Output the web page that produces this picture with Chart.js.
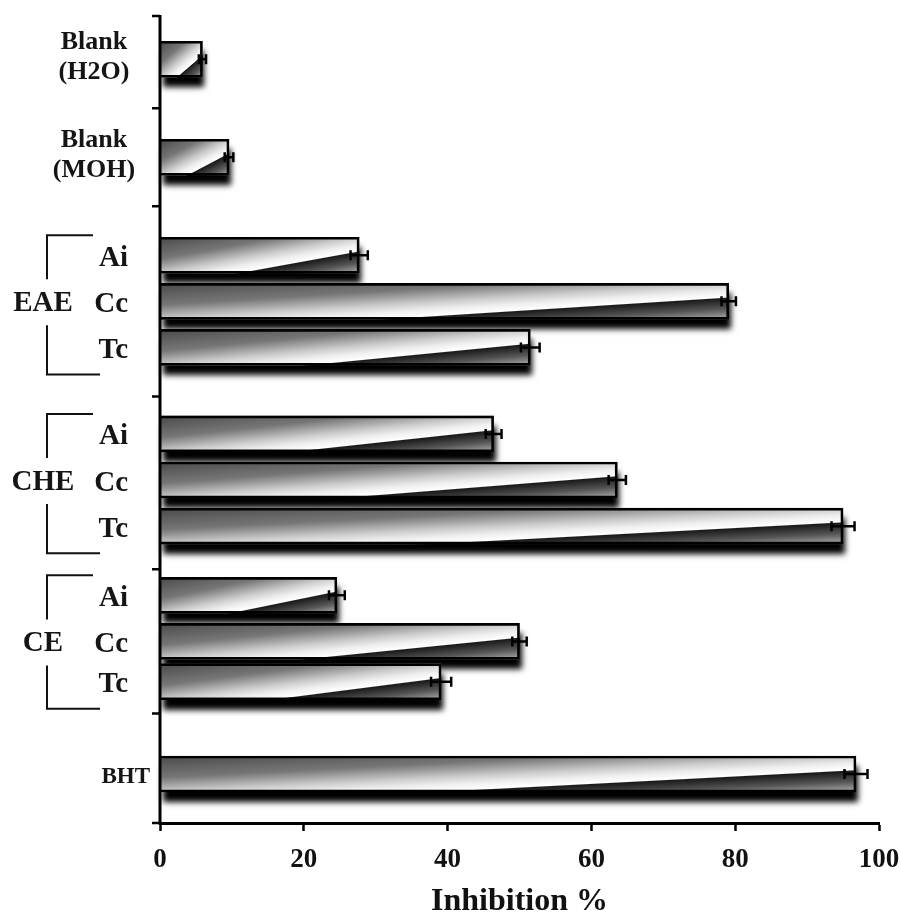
<!DOCTYPE html>
<html>
<head>
<meta charset="utf-8">
<script src="https://cdn.jsdelivr.net/npm/chart.js@4/dist/chart.umd.min.js"></script>
<style>
  html, body { margin: 0; padding: 0; background: #ffffff; }
  #wrap { width: 901px; height: 921px; }
</style>
</head>
<body>
<div id="wrap"><canvas id="chart" width="901" height="921"></canvas></div>
<script>
// ---- data (top to bottom) ----
const barLabels = ['Blank (H2O)', 'Blank (MOH)',
  'EAE Ai', 'EAE Cc', 'EAE Tc',
  'CHE Ai', 'CHE Cc', 'CHE Tc',
  'CE Ai', 'CE Cc', 'CE Tc',
  'BHT'];
const inhibition = [5.9, 9.6, 27.7, 79.1, 51.5, 46.4, 63.6, 95.0, 24.6, 50.0, 39.1, 96.8];
const errorSD    = [0.5, 0.6, 1.2, 1.0, 1.3, 1.1, 1.2, 1.6, 1.1, 1.0, 1.4, 1.6];
const xTickValues = [0, 20, 40, 60, 80, 100];
const groupNames = ['EAE', 'CHE', 'CE'];
const subLabels = ['Ai', 'Cc', 'Tc'];
const blankLines = [['Blank', '(H2O)'], ['Blank', '(MOH)']];
const standardLabel = 'BHT';
const axisTitle = 'Inhibition %';

// ---- row layout of the category axis ----
const ROWS = 140;
const barRows = [7, 24, 41, 49, 57, 72, 80, 88, 100, 108, 115, 131];
const boundaryRows = [0, 16, 33, 66, 96, 121, 140];
const groupBars = [[2, 3, 4], [5, 6, 7], [8, 9, 10]];

const rowLabels = Array.from({ length: ROWS }, () => '');
barRows.forEach((r, i) => { rowLabels[r] = barLabels[i]; });
const rowValues = Array(ROWS).fill(null);
barRows.forEach((r, i) => { rowValues[r] = inhibition[i]; });

const SERIF = '"Liberation Serif", "Times New Roman", serif';

// Shaded bars with a drop shadow, error bars and the hand-set axis labels
const barArt = {
  id: 'barArt',
  beforeDatasetDraw(chart, args) {
    const ctx = chart.ctx;
    const meta = args.meta;
    barRows.forEach((r) => {
      const el = meta.data[r];
      const L = el.base, R = el.x;
      const T = el.y - el.height / 2, B = el.y + el.height / 2;
      const W = R - L, H = B - T;
      // drop shadow
      ctx.save();
      ctx.shadowColor = 'rgba(0,0,0,1)';
      ctx.shadowBlur = 6;
      ctx.shadowOffsetX = 2;
      ctx.shadowOffsetY = 10;
      ctx.fillStyle = '#000';
      ctx.fillRect(L, T, W, H);
      ctx.restore();
      // diagonal split gradient
      const n2 = H * H + W * W;
      const k = 2 * W * H / n2;
      const g = ctx.createLinearGradient(L, T, L + H * k, T + W * k);
      g.addColorStop(0, '#4a4a4a');
      g.addColorStop(0.3, '#767676');
      g.addColorStop(0.5, '#cccccc');
      g.addColorStop(0.6, '#eeeeee');
      g.addColorStop(0.69, '#ffffff');
      g.addColorStop(0.705, '#1a1a1a');
      g.addColorStop(0.85, '#555555');
      g.addColorStop(1, '#b0b0b0');
      ctx.save();
      ctx.fillStyle = g;
      ctx.fillRect(L, T, W, H);
      ctx.restore();
    });
  },
  afterDatasetsDraw(chart) {
    const ctx = chart.ctx;
    const xs = chart.scales.x;
    const meta = chart.getDatasetMeta(0);
    ctx.save();
    ctx.strokeStyle = '#000';
    ctx.lineWidth = 2.5;
    barRows.forEach((r, i) => {
      const y = meta.data[r].y;
      const x1 = xs.getPixelForValue(inhibition[i] - errorSD[i]);
      const x2 = xs.getPixelForValue(inhibition[i] + errorSD[i]);
      ctx.beginPath();
      ctx.moveTo(x1, y); ctx.lineTo(x2, y);
      ctx.moveTo(x1, y - 5); ctx.lineTo(x1, y + 5);
      ctx.moveTo(x2, y - 5); ctx.lineTo(x2, y + 5);
      ctx.stroke();
    });
    ctx.restore();
  },
  afterDraw(chart) {
    const ctx = chart.ctx;
    const ys = chart.scales.y;
    const area = chart.chartArea;
    const meta = chart.getDatasetMeta(0);
    const rowY = (k) => ys.getPixelForValue(k - 0.5);
    const barY = (i) => meta.data[barRows[i]].y;
    ctx.save();
    // y axis line and group ticks
    ctx.strokeStyle = '#000';
    ctx.lineWidth = 3;
    ctx.beginPath();
    ctx.moveTo(area.left, rowY(0) - 1);
    ctx.lineTo(area.left, rowY(ROWS) + 1.5);
    ctx.stroke();
    ctx.lineWidth = 2.5;
    ctx.beginPath();
    boundaryRows.forEach((k) => {
      const y = rowY(k);
      ctx.moveTo(area.left - 8, y);
      ctx.lineTo(area.left, y);
    });
    ctx.stroke();

    ctx.fillStyle = '#151515';
    ctx.textBaseline = 'middle';
    // blanks
    ctx.font = 'bold 26px ' + SERIF;
    ctx.textAlign = 'center';
    blankLines.forEach((lines, i) => {
      const y = barY(i);
      ctx.fillText(lines[0], 94, y - 17);
      ctx.fillText(lines[1], 94, y + 13);
    });
    // extract groups with brackets
    groupBars.forEach((idx, g) => {
      const yTop = barY(idx[0]) - 20;
      const yBot = barY(idx[2]) + 27;
      const yMid = barY(idx[1]);
      ctx.font = 'bold 29px ' + SERIF;
      ctx.textAlign = 'center';
      ctx.fillText(groupNames[g], 43, yMid + 2);
      ctx.textAlign = 'right';
      idx.forEach((bi, s) => ctx.fillText(subLabels[s], 128, barY(bi) + 3));
      ctx.lineWidth = 2;
      ctx.strokeStyle = '#111';
      ctx.beginPath();
      ctx.moveTo(93, yTop); ctx.lineTo(47, yTop); ctx.lineTo(47, yMid - 22);
      ctx.moveTo(47, yMid + 24); ctx.lineTo(47, yBot); ctx.lineTo(100, yBot);
      ctx.stroke();
    });
    // reference standard
    ctx.font = 'bold 23px ' + SERIF;
    ctx.textAlign = 'right';
    ctx.fillText(standardLabel, 150, barY(11) + 3);
    ctx.restore();
  }
};

new Chart(document.getElementById('chart'), {
  type: 'bar',
  data: {
    labels: rowLabels,
    datasets: [{
      data: rowValues,
      backgroundColor: 'rgba(0,0,0,0)',
      borderColor: '#000',
      borderWidth: 2,
      borderSkipped: 'start',
      barThickness: 36
    }]
  },
  options: {
    indexAxis: 'y',
    responsive: false,
    animation: false,
    devicePixelRatio: 1,
    layout: { padding: { top: 16, right: 22, bottom: 0, left: 0 } },
    plugins: { legend: { display: false }, tooltip: { enabled: false } },
    scales: {
      x: {
        type: 'linear',
        min: 0,
        max: 100,
        afterBuildTicks(s) { s.ticks = xTickValues.map(v => ({ value: v })); },
        ticks: {
          color: '#111',
          padding: 13,
          maxRotation: 0,
          font: { family: SERIF, size: 27, weight: 'bold' }
        },
        grid: { drawOnChartArea: false, drawTicks: true, tickLength: 8, tickColor: '#000', tickWidth: 2.5 },
        border: { color: '#000', width: 3 },
        title: {
          display: true,
          text: axisTitle,
          color: '#111',
          font: { family: SERIF, size: 32, weight: 'bold' },
          padding: { top: 6, bottom: 0 }
        },
        afterFit(s) { s.paddingLeft = 0; s.paddingRight = 0; s.height = 98; }
      },
      y: {
        type: 'category',
        ticks: { display: false },
        grid: { display: false },
        border: { display: false },
        afterFit(s) { s.width = 160; }
      }
    }
  },
  plugins: [barArt]
});
</script>
</body>
</html>
